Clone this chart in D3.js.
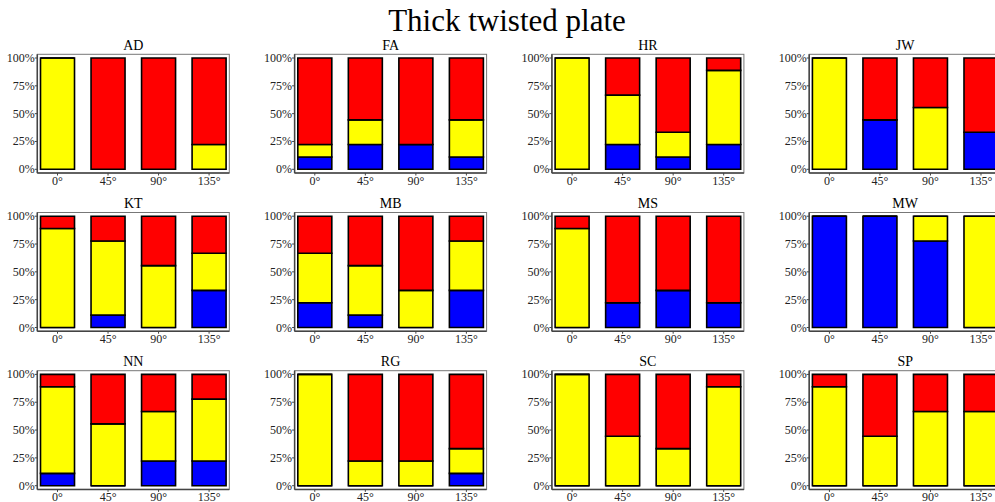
<!DOCTYPE html>
<html><head><meta charset="utf-8">
<script src="https://cdn.jsdelivr.net/npm/d3@7"></script>
<style>body{margin:0;background:#fff;}svg{display:block;}</style>
</head><body>
<script>
const chartTitle = "Thick twisted plate";
const panels = ["AD","FA","HR","JW","KT","MB","MS","MW","NN","RG","SC","SP"];
const angles = ["0°","45°","90°","135°"];
const total = 9;
const blueCounts = [
  [0,0,0,0],[1,2,2,1],[0,2,1,2],[0,4,0,3],
  [0,1,0,3],[2,1,0,3],[0,2,3,2],[9,9,7,0],
  [1,0,2,2],[0,0,0,1],[0,0,0,0],[0,0,0,0]
];
const yellowCounts = [
  [9,0,0,2],[1,2,0,3],[9,4,2,6],[9,0,5,0],
  [8,6,5,3],[4,4,3,4],[8,0,0,0],[0,0,2,9],
  [7,5,4,5],[9,2,2,2],[9,4,3,8],[8,4,6,6]
];
const redCounts = [
  [0,9,9,7],[7,5,7,5],[0,3,6,1],[0,5,4,6],
  [1,2,4,3],[3,4,6,2],[1,7,6,7],[0,0,0,0],
  [1,4,3,2],[0,7,7,6],[0,5,6,1],[1,5,3,3]
];
const yTicks = [0, 0.25, 0.5, 0.75, 1];
const seriesColors = ["#0000ff", "#ffff00", "#ff0000"];

const W = 995, H = 502;
const svg = d3.select("body").append("svg").attr("width", W).attr("height", H);
const font = "'Liberation Serif','Times New Roman',serif";

svg.append("text").attr("x", 507).attr("y", 31).attr("text-anchor", "middle")
  .attr("font-family", font).attr("font-size", 31).attr("fill", "#000").text(chartTitle);

const plotW = 192, plotH = 111.3;
panels.forEach((name, i) => {
  const c = i % 4, r = Math.floor(i / 4);
  const left = 37.3 + c * 257.3;
  const top = 58 + r * 158.2;
  const g = svg.append("g");
  const x = d3.scaleLinear().domain([-0.4, 3.4]).range([left, left + plotW]);
  const y = d3.scaleLinear().domain([0, 1]).range([top + plotH, top]);
  const fTop = y(1) - 3.7, fBot = y(0) + 3.7;

  g.append("rect").attr("x", left).attr("y", fTop).attr("width", plotW).attr("height", fBot - fTop)
    .attr("fill", "none").attr("stroke", "#777").attr("stroke-width", 1);

  const bw = 0.673;
  angles.forEach((a, j) => {
    const vals = [blueCounts[i][j], yellowCounts[i][j], redCounts[i][j]].map(v => v / total);
    let acc = 0;
    vals.forEach((v, k) => {
      const y0 = y(acc), y1 = y(acc + v);
      const x0 = x(j - bw / 2), x1 = x(j + bw / 2);
      acc += v;
      g.append("path")
        .attr("d", `M${x0},${y0}L${x1},${y0}L${x1},${y1}L${x0},${y1}Z`)
        .attr("fill", seriesColors[k]).attr("stroke", "#000").attr("stroke-width", 1.6)
        .attr("stroke-linejoin", "miter");
    });
  });

  g.append("line").attr("x1", left).attr("x2", left).attr("y1", fTop).attr("y2", fBot)
    .attr("stroke", "#444").attr("stroke-width", 1.5);
  g.append("line").attr("x1", left).attr("x2", left + plotW).attr("y1", fBot).attr("y2", fBot)
    .attr("stroke", "#444").attr("stroke-width", 1.5);

  yTicks.forEach(t => {
    g.append("line").attr("x1", left - 2.5).attr("x2", left).attr("y1", y(t)).attr("y2", y(t))
      .attr("stroke", "#444").attr("stroke-width", 1);
    g.append("text").attr("x", left - 2.5).attr("y", y(t) + 4).attr("text-anchor", "end")
      .attr("font-family", font).attr("font-size", 12).attr("fill", "#222")
      .text(d3.format(".0%")(t));
  });
  angles.forEach((a, j) => {
    g.append("line").attr("x1", x(j)).attr("x2", x(j)).attr("y1", fBot).attr("y2", fBot + 2.5)
      .attr("stroke", "#444").attr("stroke-width", 1);
    g.append("text").attr("x", x(j)).attr("y", fBot + 11.5).attr("text-anchor", "middle")
      .attr("font-family", font).attr("font-size", 12).attr("fill", "#222").text(a);
  });

  g.append("text").attr("x", left + plotW / 2).attr("y", y(1) - 8.5).attr("text-anchor", "middle")
    .attr("font-family", font).attr("font-size", 14).attr("fill", "#000").text(name);
});
</script>
</body></html>
